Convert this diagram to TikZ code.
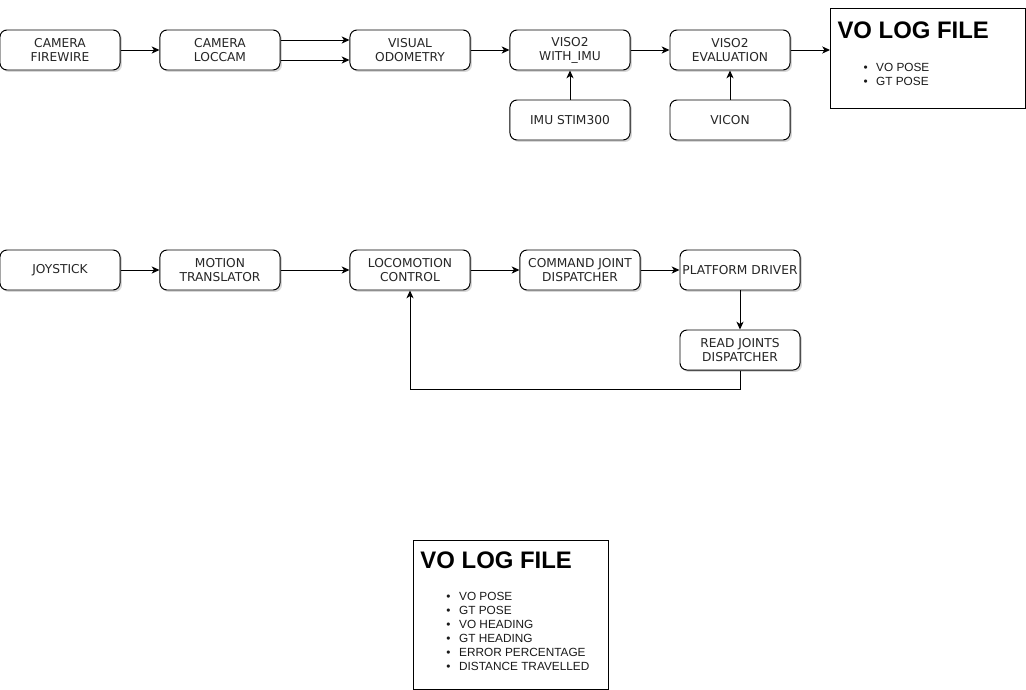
\documentclass[tikz,border=0pt]{standalone}
\usepackage{fontspec}
\setmainfont{Liberation Sans}
\newfontfamily\boxfont{DejaVu Sans}
\usetikzlibrary{arrows.meta}
\usetikzlibrary{shadows}
\usetikzlibrary{calc}
\tikzset{block/.style={draw,fill=white,rounded corners=5pt,line width=0.7pt,
                       minimum width=3cm,minimum height=1cm,align=center,inner xsep=1pt,
                       text=black!85,font=\boxfont\fontsize{8.7pt}{10pt}\selectfont,
                       drop shadow={shadow xshift=1.4pt,shadow yshift=-1.4pt,fill=black!30}}}
\tikzset{logbox/.style={draw,line width=0.7pt,minimum width=4.875cm,anchor=north west,inner sep=0pt}}
\tikzset{logtitle/.style={anchor=north west,inner sep=0pt,font=\bfseries\fontsize{17pt}{20pt}\selectfont}}
\tikzset{loglist/.style={anchor=north west,inner sep=0pt,align=left,text=black!90,
                         font=\fontsize{8.4pt}{9.92pt}\selectfont}}
\newcommand{\logitem}[1]{\makebox[9pt][l]{\textbullet}#1}

\begin{document}
\begin{tikzpicture}[x=0.025cm,y=-0.025cm,line width=0.7pt,
                    >={Stealth[length=5.5pt,width=5pt,inset=1.5pt]}]
    \useasboundingbox (0,0) rectangle (1026,690);

    % vision chain
    \foreach \name/\x/\txt in {fw/60/{CAMERA\\FIREWIRE},cam/220/{CAMERA\\LOCCAM},
                               vo/410/{VISUAL\\ODOMETRY},viso/570/{VISO2\\WITH\_IMU},
                               eval/730/{VISO2\\EVALUATION}}{%
          \node[block] (\name) at (\x,50) {\txt};
        }
    \node[block] (imu) at (570,120) {IMU STIM300};
    \node[block] (vicon) at (730,120) {VICON};

    \draw[->] (fw) -- (cam);
    \draw[->] ($(cam.east)+(0,-10)$) -- ($(vo.west)+(0,-10)$);
    \draw[->] ($(cam.east)+(0,10)$) -- ($(vo.west)+(0,10)$);
    \draw[->] (vo) -- (viso);
    \draw[->] (viso) -- (eval);
    \draw[->] (imu) -- (viso);
    \draw[->] (vicon) -- (eval);

    % first log file
    \node[logbox,minimum height=2.5cm] (log1) at (830,8) {};
    \node[logtitle] (log1title) at (837,21) {VO LOG FILE};
    \node[loglist] (log1list) at (863,63) {\logitem{VO POSE}\\\logitem{GT POSE}};
    \draw[->] (eval.east) -- (eval.east -| log1.west);

    % locomotion chain
    \foreach \name/\x/\txt in {joy/60/{JOYSTICK},mt/220/{MOTION\\TRANSLATOR},
                               lc/410/{LOCOMOTION\\CONTROL},cjd/580/{COMMAND JOINT\\DISPATCHER},
                               pd/740/{PLATFORM DRIVER}}{%
          \node[block] (\name) at (\x,270) {\txt};
        }
    \node[block] (rjd) at (740,350) {READ JOINTS\\DISPATCHER};

    \draw[->] (joy) -- (mt);
    \draw[->] (mt) -- (lc);
    \draw[->] (lc) -- (cjd);
    \draw[->] (cjd) -- (pd);
    \draw[->] (pd) -- (rjd);
    \draw[->] (rjd.south) -- ++(0,19) -| (lc.south);

    % second log file
    \node[logbox,minimum height=3.725cm] (log2) at (413,540) {};
    \node[logtitle] (log2title) at (420,551) {VO LOG FILE};
    \node[loglist] (log2list) at (446,592) {\logitem{VO POSE}\\\logitem{GT POSE}\\
        \logitem{VO HEADING}\\\logitem{GT HEADING}\\\logitem{ERROR PERCENTAGE}\\
        \logitem{DISTANCE TRAVELLED}};
\end{tikzpicture}
\end{document}
